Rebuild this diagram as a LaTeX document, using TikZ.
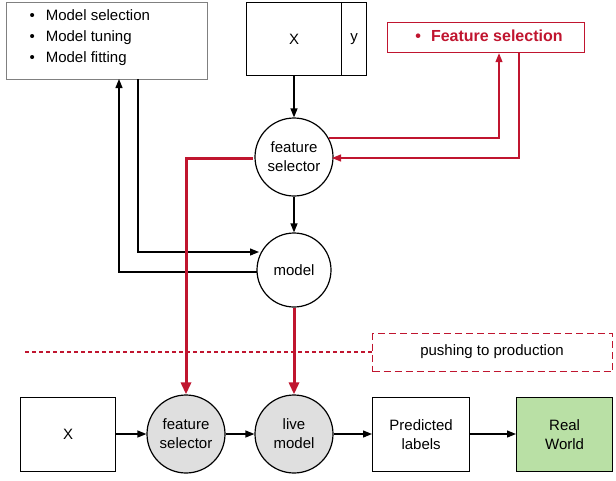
\documentclass[tikz,border=0pt]{standalone}
\usepackage{fontspec}
\setmainfont{Liberation Sans}
\usetikzlibrary{arrows.meta}
\definecolor{myred}{HTML}{C0152F}
\definecolor{mygreen}{HTML}{B9E0A5}
\begin{document}
\begin{tikzpicture}[x=1pt,y=-1pt,
  txt/.style={font=\fontsize{15}{19}\selectfont},
  circ/.style={circle,draw,line width=1.2pt,minimum size=76pt,inner sep=0pt,align=center,txt},
  box/.style={draw,line width=1.2pt,inner sep=0pt,align=center,txt},
  arr/.style={-{Triangle[length=9pt,width=7pt]},line width=1.2pt},
  rarr/.style={-{Triangle[length=9pt,width=7pt]},line width=1.2pt,myred},
  tarr/.style={-{Triangle[length=12pt,width=10pt]},line width=3pt,myred}]
\useasboundingbox (0,0) rectangle (616,480);
% top-left box
\node[box,draw=gray,minimum width=201pt,minimum height=77pt,anchor=north west] (mb) at (6,2) {};
\node[font=\fontsize{15}{21}\selectfont,anchor=north west,align=left] (mbt) at (26,6) {\textbullet\hspace{11pt}Model selection\\\textbullet\hspace{11pt}Model tuning\\\textbullet\hspace{11pt}Model fitting};
% X|y box
\node[box,minimum width=95pt,minimum height=73pt,anchor=north west] (xb) at (246,2) {X};
\node[box,minimum width=25pt,minimum height=73pt,anchor=north west] (yb) at (341,2) {y};
% feature selection box
\node[box,draw=myred,minimum width=197pt,minimum height=30pt,anchor=north west] (fsb) at (387,22) {};
\node[text=myred,font=\fontsize{16}{19}\selectfont\bfseries] (fst) at (489,36) {\textbullet\hspace{10pt}Feature selection};
% circles
\node[circ,minimum size=78pt] (fs) at (294,157) {feature\\selector};
\node[circ,minimum size=74pt] (m) at (294,270) {model};
\draw[arr] (xb.south-|fs) -- (fs);
\draw[arr] (fs) -- (m);
% red loop
\coordinate (r1) at (499,138); \coordinate (r2) at (519,158);
\coordinate (r0) at (329,138); \coordinate (r3) at (332,158);
\draw[rarr] (r0) -- (r1) -- (fsb.south-|r1);
\draw[rarr] (fsb.south-|r2) -- (r2) -- (r3);
% black loop
\coordinate (b0) at (138,79); \coordinate (b1) at (138,252); \coordinate (b1e) at (259,252);
\coordinate (b2) at (119,272); \coordinate (b2s) at (257,272); \coordinate (b3) at (119,79);
\draw[arr] (b0) -- (b1) -- (b1e);
\draw[arr] (b2s) -- (b2) -- (b3);
% dashed
\draw[myred,line width=1.2pt,dash pattern=on 4pt off 3pt] (25,352) -- (372,352);
\node[box,draw=myred,dash pattern=on 7pt off 4pt,minimum width=240pt,minimum height=38pt,anchor=north west] (pp) at (372,333) {};
\node[txt] (ppt) at (492,352) {pushing to production};
% bottom row
\node[box,minimum width=95pt,minimum height=74pt,anchor=north west] (x2) at (20,397) {X};
\node[circ,fill=gray!25,minimum size=78pt] (fs2) at (186,434) {feature\\selector};
\node[circ,fill=gray!25,minimum size=78pt] (lm) at (294,434) {live\\model};
\node[box,minimum width=97pt,minimum height=74pt,anchor=north west] (pl) at (372,397) {Predicted\\labels};
\node[box,fill=mygreen,minimum width=96pt,minimum height=74pt,anchor=north west] (rw) at (516,397) {Real\\World};
\draw[arr] (x2.east|-fs2) -- (fs2.west);
\draw[arr] (fs2.east) -- (lm.west);
\draw[arr] (lm.east) -- (pl.west|-lm);
\draw[arr] (pl.east|-lm) -- (rw.west|-lm);
% thick red
\coordinate (t0) at (253,158); \coordinate (t1) at (186,158);
\draw[tarr] (t0) -- (t1) -- (fs2.north);
\draw[tarr] (m.south) -- (lm.north);
\end{tikzpicture}
\end{document}
